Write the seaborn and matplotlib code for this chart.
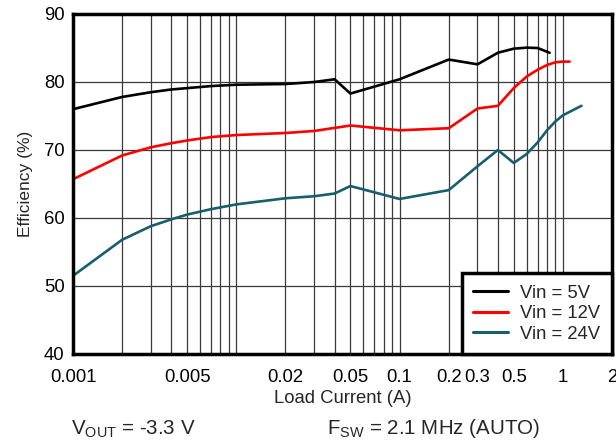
import numpy as np
import pandas as pd
import matplotlib
matplotlib.use("Agg")
import matplotlib.pyplot as plt
from matplotlib.ticker import FixedLocator, LogLocator, NullFormatter
import seaborn as sns

# Efficiency vs. load current, Vout = -3.3 V, Fsw = 2.1 MHz (AUTO)
current_5v = [0.001, 0.002, 0.003, 0.004, 0.005, 0.007, 0.01, 0.02, 0.03, 0.04,
              0.05, 0.1, 0.2, 0.3, 0.4, 0.5, 0.6, 0.7, 0.83]
eff_5v = [76.0, 77.8, 78.5, 78.9, 79.1, 79.4, 79.6, 79.7, 80.0, 80.4,
          78.3, 80.4, 83.3, 82.6, 84.3, 84.9, 85.05, 85.0, 84.3]

current_12v = [0.001, 0.002, 0.003, 0.004, 0.005, 0.007, 0.01, 0.02, 0.03, 0.05,
               0.1, 0.2, 0.3, 0.4, 0.5, 0.6, 0.7, 0.8, 0.9, 1.0, 1.1]
eff_12v = [65.7, 69.2, 70.4, 71.0, 71.4, 71.9, 72.2, 72.5, 72.8, 73.6,
           72.9, 73.2, 76.1, 76.5, 79.1, 80.8, 81.8, 82.5, 82.9, 83.0, 83.0]

current_24v = [0.001, 0.002, 0.003, 0.004, 0.005, 0.007, 0.01, 0.02, 0.03, 0.04,
               0.05, 0.1, 0.2, 0.3, 0.4, 0.5, 0.6, 0.7, 0.8, 0.9, 1.0, 1.3]
eff_24v = [51.5, 56.8, 58.8, 59.8, 60.5, 61.3, 62.0, 62.9, 63.2, 63.6,
           64.7, 62.8, 64.1, 67.6, 70.0, 68.1, 69.4, 71.1, 72.9, 74.2, 75.1, 76.5]

series_names = ["Vin = 5V", "Vin = 12V", "Vin = 24V"]
series_colors = ["#000000", "#ff0000", "#185e6c"]

x_ticks = [0.001, 0.005, 0.02, 0.05, 0.1, 0.2, 0.3, 0.5, 1, 2]
x_tick_labels = ["0.001", "0.005", "0.02", "0.05", "0.1", "0.2", "0.3", "0.5", "1", "2"]
y_ticks = [40, 50, 60, 70, 80, 90]

frames = []
for name, xs, ys in zip(series_names,
                        [current_5v, current_12v, current_24v],
                        [eff_5v, eff_12v, eff_24v]):
    frames.append(pd.DataFrame({"current": xs, "efficiency": ys, "series": name}))
df = pd.concat(frames, ignore_index=True)

sns.set_style("white")
plt.rcParams["font.family"] = ["Liberation Sans", "DejaVu Sans"]
plt.rcParams["mathtext.default"] = "regular"

FS = 13.3  # horizontal text size

fig = plt.figure(figsize=(6.16, 4.45), dpi=100)
ax = fig.add_axes([73 / 616, 1 - 354 / 445, (612 - 73) / 616, (354 - 14) / 445])

sns.lineplot(data=df, x="current", y="efficiency", hue="series",
             hue_order=series_names, palette=series_colors,
             linewidth=1.9, sort=False, estimator=None, ax=ax)

ax.set_xscale("log")
ax.set_xlim(0.001, 2)
ax.set_ylim(40, 90)
ax.xaxis.set_major_locator(FixedLocator(x_ticks))
ax.set_xticklabels(x_tick_labels)
ax.xaxis.set_minor_locator(LogLocator(base=10, subs=np.arange(1, 10)))
ax.xaxis.set_minor_formatter(NullFormatter())
ax.set_yticks(y_ticks)

ax.grid(True, which="both", axis="x", color="#3a3a3a", linewidth=0.9)
ax.grid(True, which="major", axis="y", color="#3a3a3a", linewidth=0.9)
ax.set_axisbelow(True)

ax.tick_params(axis="both", which="both", length=0, labelsize=FS, colors="black")
ax.tick_params(axis="y", pad=6)
ax.tick_params(axis="x", pad=10.5)

for sp in ax.spines.values():
    sp.set_visible(True)
    sp.set_color("black")
    sp.set_linewidth(2.5)

ax.set_xlabel("Load Current (A)", fontsize=FS, labelpad=3.5)
ax.set_ylabel("Efficiency (%)", fontsize=12.5, labelpad=8)

leg = ax.legend(loc="lower right", borderaxespad=0, fontsize=FS,
                frameon=True, fancybox=False, framealpha=1,
                edgecolor="black", handlelength=1.9, handletextpad=0.65,
                labelspacing=0.18, borderpad=0.62, title=None)
leg.get_frame().set_linewidth(2.5)
for h in leg.get_lines():
    h.set_linewidth(2.2)

fig.text(71 / 616, 1 - 429 / 445, r"V$_{OUT}$ = -3.3 V", fontsize=14.8,
         ha="left", va="center")
fig.text(327 / 616, 1 - 429 / 445, r"F$_{SW}$ = 2.1 MHz (AUTO)", fontsize=14.8,
         ha="left", va="center")

fig.savefig("out.png", dpi=100)
